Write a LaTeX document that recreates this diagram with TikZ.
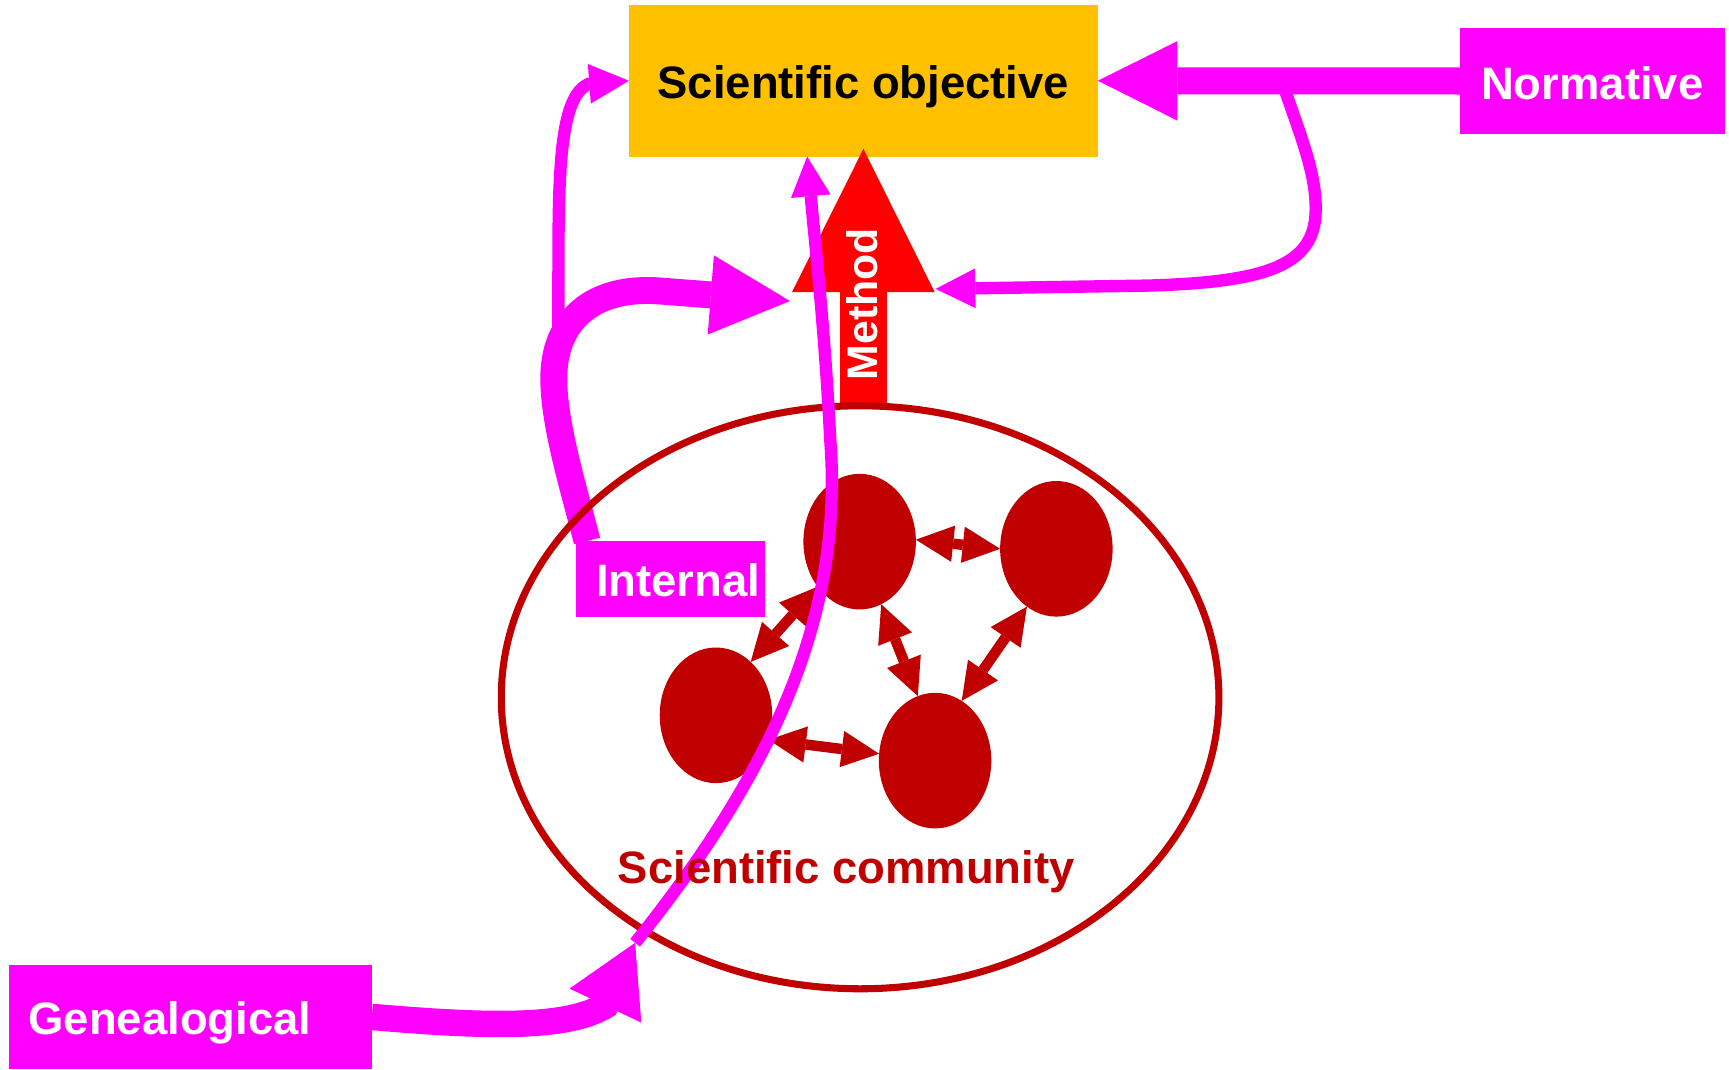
\documentclass[tikz,border=0pt]{standalone}
\usepackage{fontspec}
\setmainfont{Liberation Sans}
\usetikzlibrary{arrows.meta,shapes.geometric,calc}
\definecolor{mag}{RGB}{255,0,255}
\definecolor{gold}{RGB}{255,192,0}
\definecolor{dred}{RGB}{192,0,0}
\definecolor{bred}{RGB}{255,0,0}
\begin{document}
\begin{tikzpicture}[x=0.5pt,y=-0.5pt,
  lbl/.style={font=\fontsize{20.6}{24}\selectfont\bfseries},
  box/.style={rectangle, inner sep=0pt, outer sep=0pt, text height=16.4pt, text depth=0pt, lbl},
  magbox/.style={box, fill=mag, text=white},
  member/.style={ellipse, fill=dred, minimum width=51pt, minimum height=61.5pt, inner sep=0pt, outer sep=0pt},
  link/.style={dred, line width=4.75pt, {Triangle[length=17pt,width=16.5pt,line width=0pt]}-{Triangle[length=17pt,width=16.5pt,line width=0pt]}},
  thinmag/.style={mag, line width=5.6pt, -{Triangle[length=18pt,width=18pt,line width=0pt]}},
  thickmag/.style={mag, line width=12.2pt, -{Triangle[length=36pt,width=36pt,line width=0pt]}},
]
\useasboundingbox (0,0) rectangle (1568,969.5);
\fill[white] (0,0) rectangle (1568,969.5);

% boxes
\node[box, fill=gold, minimum width=212.65pt, minimum height=68.75pt] (obj) at (783,73.25) {Scientific objective};
\node[magbox, minimum width=120pt, minimum height=48pt] (norm) at (1444,73.45) {Normative};
\node[magbox, minimum width=164.55pt, minimum height=47.2pt, text width=146.75pt, align=left] (gen) at (172.65,922.2) {Genealogical};
\node[magbox, minimum width=85.7pt, minimum height=34.3pt, text width=81.3pt, align=right] (int) at (608.1,524.9) {Internal};

% helper coordinates
\coordinate (mtip) at (783,135);
\coordinate (mtail) at (783,369);
\coordinate (mhl) at (716.4,273);
\coordinate (mhr) at (848.5,262);
\coordinate (gbase) at (549,912);
\coordinate (gtip) at (576,855);
\coordinate (nsplit) at (1163,75);

% Internal connectors
\draw[thinmag] ($(int.north west)+(6,0)$) .. controls (514,435) and (500,370) .. (506,320)
  .. controls (508,200) and (500,90) .. (534,76) -- (obj.west);
\draw[thickmag] ($(int.north west)+(10,0)$) .. controls (518,435) and (498,370) .. (503,330)
  .. controls (508,288) and (540,259) .. (600,264) -- (mhl);

% Normative connectors
\draw[thickmag, line width=12.25pt] (norm.west) -- (obj.east);
\draw[thinmag] (nsplit) .. controls (1180,125) and (1195,160) .. (1193,195)
  .. controls (1190,240) and (1150,256) .. (1040,259) -- (mhr);

% Method arrow
\draw[bred, line width=21.2pt, -{Triangle[length=65pt,width=64.75pt,line width=0pt]}] (mtail) -- (mtip);

% Genealogical thick arrow
\draw[mag, line width=12pt, -{Triangle[length=31.5pt,width=36pt,line width=0pt]}] (gen.east) .. controls (450,932) and (515,932) .. (gbase) -- (gtip);

% community
\node[ellipse, draw=dred, line width=3.2pt, minimum width=325.4pt, minimum height=264.35pt, inner sep=0pt] (comm) at (780,632.35) {};

\node[member] (A) at (779.6,491.2) {};
\node[member] (B) at (958,497.7) {};
\node[member] (C) at (649.3,648.7) {};
\node[member] (D) at (848,689.8) {};

\draw[link] (A.2) -- (B.180);
\draw[link] (A.227) -- (C.57);
\draw[link] (A.289) -- (D.105);
\draw[link] (B.243) -- (D.66);
\draw[link] (C.335) -- (D.173);

% Genealogical thin line
\draw[thinmag] (gtip) .. controls (700,700) and (765,560) .. (753,400)
  .. controls (748,300) and (740,230) .. ($(obj.south)+(-51,0)$);

% labels
\node[lbl, text=dred, anchor=base, inner sep=0pt] (commlabel) at (767.5,801) {Scientific community};
\node[rotate=90, anchor=base, inner sep=0pt, text=white, font=\fontsize{19.4}{23}\selectfont\bfseries] (mlabel) at (795.8,276) {Method};
\end{tikzpicture}
\end{document}
